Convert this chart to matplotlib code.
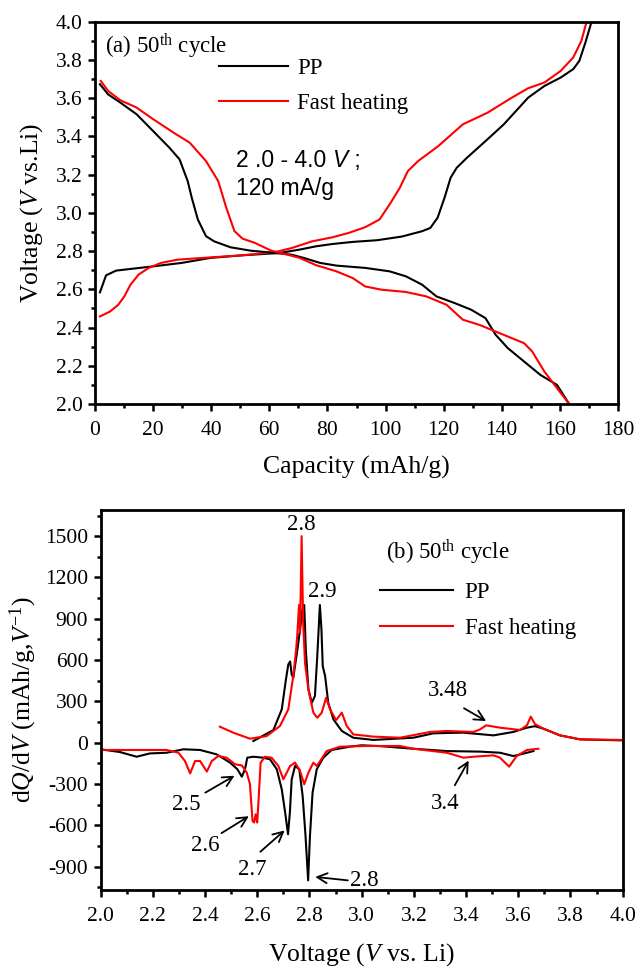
import matplotlib
matplotlib.use("Agg")
import matplotlib.pyplot as plt
from matplotlib.ticker import MultipleLocator

plt.rcParams['font.family'] = ['Liberation Serif', 'DejaVu Serif']
plt.rcParams['mathtext.fontset'] = 'custom'
plt.rcParams['mathtext.rm'] = 'Liberation Serif'
plt.rcParams['mathtext.it'] = 'Liberation Serif:italic'
plt.rcParams['axes.unicode_minus'] = False

# ---------------- (a) charge/discharge profiles ----------------
pp_charge_cap = [1.7, 3.8, 7.3, 20, 29.8, 39.6, 50.8, 63.5, 70.5, 76.1, 81.7, 88.7, 97.2,
                 105.6, 112.6, 115.4, 117.9, 120.3, 122.4, 124.5, 128, 135.1, 140.7, 144.9,
                 149.1, 154.7, 160.3, 164.6, 166.7, 168.8, 170.9]
pp_charge_v = [2.584, 2.673, 2.698, 2.72, 2.738, 2.764, 2.778, 2.79, 2.808, 2.825, 2.837,
               2.848, 2.857, 2.876, 2.904, 2.921, 2.974, 3.079, 3.184, 3.236, 3.288, 3.385,
               3.463, 3.533, 3.603, 3.664, 3.708, 3.752, 3.795, 3.892, 4.0]

pp_dis_cap = [1.7, 4.5, 8.7, 14.3, 20, 25.6, 29.1, 31.9, 33.3, 35.4, 38.2, 41, 46.6, 53.6,
              62.1, 67.7, 71.9, 77.5, 83.1, 93, 101.4, 107, 112.6, 117.5, 123.8, 129.5,
              134.4, 137.9, 142.1, 147.7, 153.3, 159, 163.2]
pp_dis_v = [3.673, 3.62, 3.577, 3.516, 3.428, 3.341, 3.28, 3.166, 3.079, 2.965, 2.878,
            2.851, 2.82, 2.802, 2.79, 2.781, 2.764, 2.738, 2.724, 2.712, 2.694, 2.668,
            2.624, 2.563, 2.528, 2.493, 2.449, 2.362, 2.292, 2.222, 2.152, 2.1, 2.0]

fh_charge_cap = [1.7, 5.2, 8, 10.1, 12.2, 15, 18.5, 22.7, 28.4, 36.8, 50.8, 62.1, 67.7,
                 74.7, 81.7, 87.3, 93, 97.9, 101.4, 104.9, 107.7, 111.2, 118.2, 126.6,
                 135.1, 143.5, 149.1, 154.7, 160.3, 164.6, 167.4, 169.2]
fh_charge_v = [2.458, 2.484, 2.519, 2.563, 2.624, 2.677, 2.712, 2.738, 2.755, 2.764, 2.778,
               2.795, 2.816, 2.851, 2.872, 2.895, 2.925, 2.965, 3.044, 3.131, 3.219, 3.271,
               3.35, 3.463, 3.524, 3.603, 3.652, 3.682, 3.743, 3.813, 3.9, 4.0]

fh_dis_cap = [2, 4.5, 8.7, 14.3, 20, 27, 32.6, 38.2, 42.4, 45.2, 48, 50.8, 55, 60.7, 66.3,
              70.5, 76.1, 83.1, 88.7, 93, 98.6, 107, 114, 121, 126.6, 132.3, 137.9, 142.1,
              147.7, 150.5, 154.7, 159, 163.2]
fh_dis_v = [3.69, 3.638, 3.589, 3.551, 3.49, 3.42, 3.367, 3.271, 3.166, 3.026, 2.904,
            2.865, 2.843, 2.802, 2.781, 2.764, 2.726, 2.694, 2.659, 2.615, 2.598, 2.586,
            2.563, 2.519, 2.441, 2.414, 2.379, 2.353, 2.318, 2.274, 2.169, 2.083, 2.0]

# ---------------- (b) differential capacity ----------------
pp_ox_v = [2.585, 2.662, 2.694, 2.710, 2.719, 2.726, 2.732, 2.738, 2.754, 2.764, 2.773,
           2.780, 2.786, 2.796, 2.809, 2.821, 2.830, 2.840, 2.846, 2.851, 2.860, 2.872,
           2.892, 2.924, 2.968, 3.045, 3.198, 3.275, 3.390, 3.505, 3.581, 3.633, 3.664,
           3.696, 3.760, 3.837, 3.990, 4.0]
pp_ox_q = [12, 92, 242, 460, 568, 590, 496, 470, 677, 822, 967, 1000, 677, 387, 290, 339,
           629, 1000, 822, 556, 484, 290, 169, 85, 36, 20, 36, 68, 73, 53, 78, 109, 120,
           102, 53, 24, 17, 17]

fh_ox_v = [2.457, 2.508, 2.572, 2.636, 2.687, 2.719, 2.738, 2.749, 2.754, 2.760, 2.764,
           2.770, 2.776, 2.783, 2.796, 2.815, 2.830, 2.847, 2.864, 2.879, 2.902, 2.913,
           2.924, 2.943, 2.968, 3.045, 3.147, 3.262, 3.326, 3.428, 3.454, 3.477, 3.530,
           3.607, 3.633, 3.648, 3.664, 3.696, 3.760, 3.837, 3.990, 4.0]
fh_ox_q = [116, 73, 29, 48, 121, 242, 484, 677, 798, 1000, 800, 1500, 870, 580, 387, 218,
           181, 218, 327, 242, 164, 190, 218, 121, 60, 44, 36, 78, 85, 78, 97, 126, 109,
           92, 126, 189, 135, 102, 53, 24, 20, 20]

pp_red_v = [2.0, 2.074, 2.138, 2.189, 2.253, 2.317, 2.381, 2.445, 2.496, 2.524, 2.541,
            2.553, 2.562, 2.585, 2.623, 2.649, 2.675, 2.694, 2.707, 2.718, 2.725, 2.732,
            2.745, 2.761, 2.774, 2.785, 2.795, 2.802, 2.812, 2.828, 2.853, 2.885, 2.955,
            3.0, 3.070, 3.198, 3.326, 3.454, 3.530, 3.581, 3.619, 3.658]
pp_red_q = [-48, -68, -102, -78, -73, -48, -53, -85, -145, -193, -247, -193, -109, -102,
            -109, -121, -193, -339, -508, -665, -508, -266, -169, -193, -387, -677, -1000,
            -677, -363, -193, -109, -53, -29, -19, -25, -44, -61, -65, -73, -97, -80, -61]

fh_red_v = [2.0, 2.125, 2.253, 2.298, 2.323, 2.343, 2.362, 2.381, 2.407, 2.426, 2.451,
            2.483, 2.515, 2.541, 2.560, 2.572, 2.582, 2.588, 2.594, 2.600, 2.606, 2.613,
            2.630, 2.655, 2.681, 2.700, 2.726, 2.745, 2.764, 2.780, 2.796, 2.815, 2.828,
            2.841, 2.866, 2.917, 3.019, 3.147, 3.198, 3.326, 3.390, 3.428, 3.505, 3.530,
            3.565, 3.594, 3.633, 3.677]
fh_red_q = [-53, -53, -53, -73, -133, -223, -133, -133, -210, -133, -97, -109, -157, -165,
            -218, -300, -568, -580, -520, -580, -387, -145, -102, -109, -169, -266, -169,
            -145, -205, -302, -218, -145, -169, -133, -61, -29, -24, -24, -44, -73, -109,
            -102, -92, -109, -174, -97, -53, -44]

# peak labels of panel (b): text, text position
peak_text = ["2.8", "2.9", "3.48", "3.4", "2.5", "2.6", "2.7", "2.8"]
peak_text_v = [2.768, 2.849, 3.329, 3.321, 2.328, 2.401, 2.580, 3.009]
peak_text_q = [1586, 1096, 377, -444, -449, -748, -919, -1000]
# arrows pointing at peaks: tail and head positions
arrow_tail_v = [3.392, 3.357, 2.401, 2.463, 2.612, 2.947]
arrow_tail_q = [250, -309, -363, -657, -792, -1000]
arrow_head_v = [3.477, 3.410, 2.513, 2.568, 2.705, 2.822]
arrow_head_q = [157, -130, -240, -534, -637, -975]

BLACK = 'black'
RED = '#ff0000'
LW = 1.5
TICK_FS = 15.5
LABEL_FS = 18.5
TEXT_FS = 16.5

fig = plt.figure(figsize=(6.35, 9.67), dpi=100)
W, H = 635.0, 967.0


def style_axes(ax):
    for s in ax.spines.values():
        s.set_linewidth(2.0)
    ax.tick_params(which='both', direction='out', top=False, right=False,
                   labelsize=TICK_FS, width=1.8)
    ax.tick_params(which='major', length=5)
    ax.tick_params(which='minor', length=3)
    ax.tick_params(axis='x', which='major', pad=7)
    ax.tick_params(axis='y', which='major', pad=4)


# ---- panel (a)
ax1 = fig.add_axes([95 / W, 1 - 404 / H, (618 - 95) / W, (404 - 21.7) / H])
ax1.plot(pp_charge_cap, pp_charge_v, color=BLACK, lw=LW, label='PP')
ax1.plot(fh_charge_cap, fh_charge_v, color=RED, lw=LW, label='Fast heating')
ax1.plot(pp_dis_cap, pp_dis_v, color=BLACK, lw=LW)
ax1.plot(fh_dis_cap, fh_dis_v, color=RED, lw=LW)
ax1.set_xlim(0, 180)
ax1.set_ylim(2.0, 4.0)
ax1.xaxis.set_major_locator(MultipleLocator(20))
ax1.xaxis.set_minor_locator(MultipleLocator(10))
ax1.yaxis.set_major_locator(MultipleLocator(0.2))
ax1.yaxis.set_minor_locator(MultipleLocator(0.1))
ax1.yaxis.set_major_formatter(plt.FormatStrFormatter('%.1f'))
style_axes(ax1)
ax1.set_xlabel('Capacity (mAh/g)', fontsize=LABEL_FS, labelpad=12)
ax1.set_ylabel(r'Voltage ($\it{V}$ vs.Li)', fontsize=LABEL_FS, labelpad=8)
ax1.text(3.4, 3.874, r'(a) 50$^{\rm th}$ cycle', fontsize=TEXT_FS, va='center')
ax1.legend(loc='upper left', bbox_to_anchor=(0.237, 0.905), frameon=False,
           fontsize=TEXT_FS, handlelength=3.0, handletextpad=0.4, labelspacing=0.6,
           borderpad=0, borderaxespad=0)
t1 = ax1.text(48.4, 3.276, '2 .0 - 4.0 ', family='Liberation Sans', fontsize=TEXT_FS,
              va='center')
t2 = ax1.annotate('V', xy=(1, 0), xycoords=t1, va='bottom', ha='left',
                  family='Liberation Sans', style='italic', fontsize=TEXT_FS)
ax1.annotate(' ;', xy=(1, 0), xycoords=t2, va='bottom', ha='left',
             family='Liberation Sans', fontsize=TEXT_FS)
ax1.text(48.4, 3.126, '120 mA/g', family='Liberation Sans', fontsize=TEXT_FS,
         va='center')

# ---- panel (b)
ax2 = fig.add_axes([100.6 / W, 1 - 890 / H, (622.7 - 100.6) / W, (890 - 510) / H])
ax2.plot(pp_ox_v, pp_ox_q, color=BLACK, lw=LW, label='PP')
ax2.plot(fh_ox_v, fh_ox_q, color=RED, lw=LW, label='Fast heating')
ax2.plot(pp_red_v, pp_red_q, color=BLACK, lw=LW)
ax2.plot(fh_red_v, fh_red_q, color=RED, lw=LW)
ax2.set_xlim(2.0, 4.0)
ax2.set_ylim(-1070, 1690)
ax2.xaxis.set_major_locator(MultipleLocator(0.2))
ax2.xaxis.set_minor_locator(MultipleLocator(0.1))
ax2.xaxis.set_major_formatter(plt.FormatStrFormatter('%.1f'))
ax2.yaxis.set_major_locator(MultipleLocator(300))
ax2.yaxis.set_minor_locator(MultipleLocator(150))
style_axes(ax2)
ax2.set_xlabel(r'Voltage ($\it{V}$ vs. Li)', fontsize=LABEL_FS, labelpad=11)
ax2.set_ylabel(r'd$\it{Q}$/d$\it{V}$ (mAh/g,$\it{V}^{-1}$)', fontsize=LABEL_FS,
               labelpad=4)
ax2.text(3.092, 1382, r'(b) 50$^{\rm th}$ cycle', fontsize=TEXT_FS, va='center')
ax2.legend(loc='upper left', bbox_to_anchor=(0.535, 0.81), frameon=False,
           fontsize=TEXT_FS, handlelength=3.2, handletextpad=0.5, labelspacing=0.65,
           borderpad=0, borderaxespad=0)

for txt, tv, tq in zip(peak_text, peak_text_v, peak_text_q):
    ax2.text(tv, tq, txt, fontsize=TEXT_FS, ha='center', va='center')
for v0, q0, v1, q1 in zip(arrow_tail_v, arrow_tail_q, arrow_head_v, arrow_head_q):
    ax2.annotate('', xy=(v1, q1), xytext=(v0, q0),
                 arrowprops=dict(arrowstyle='->', lw=1.3, color='black',
                                 shrinkA=0, shrinkB=0, mutation_scale=18))

fig.savefig('out.png', dpi=100)
